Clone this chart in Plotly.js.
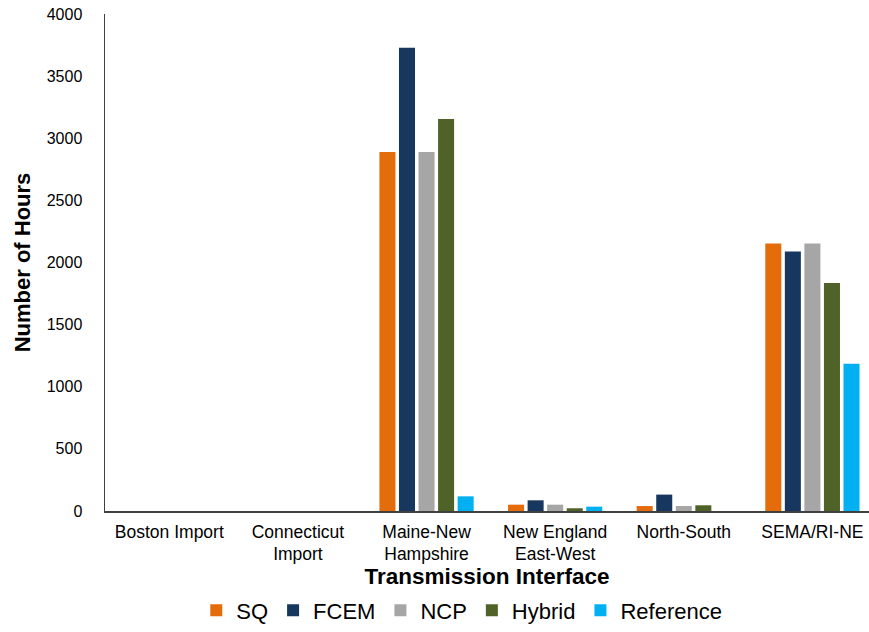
<!DOCTYPE html>
<html>
<head>
<meta charset="utf-8">
<script src="https://cdn.plot.ly/plotly-3.0.1.min.js"></script>
<style>html,body{margin:0;padding:0;background:#fff;}#chart{width:869px;height:632px;}</style>
</head>
<body>
<div id="chart"></div>
<script>
const categories = ["Boston Import", "Connecticut<br>Import", "Maine-New<br>Hampshire", "New England<br>East-West", "North-South", "SEMA/RI-NE"];
const seriesNames = ["SQ", "FCEM", "NCP", "Hybrid", "Reference"];
const sqValues = [0, 0, 2890, 51, 40, 2152];
const fcemValues = [0, 0, 3728, 86, 132, 2088];
const ncpValues = [0, 0, 2890, 51, 40, 2152];
const hybridValues = [0, 0, 3155, 22, 46, 1835];
const referenceValues = [0, 0, 118, 35, 0, 1186];
const colors = ["#E46C0A", "#17375E", "#A6A6A6", "#4F6228", "#00B0F0"];
const allValues = [sqValues, fcemValues, ncpValues, hybridValues, referenceValues];

const traces = seriesNames.map((name, i) => ({
  type: "bar",
  name: name,
  x: categories,
  y: allValues[i],
  marker: {color: colors[i]},
  hoverinfo: "x+y+name"
}));

const layout = {
  width: 869,
  height: 632,
  margin: {l: 105, r: 0, t: 14, b: 121},
  paper_bgcolor: "#fff",
  plot_bgcolor: "#fff",
  barmode: "group",
  bargap: 0.24,
  bargroupgap: 0.18,
  font: {family: "Liberation Sans, Arial, sans-serif", color: "#000"},
  xaxis: {
    range: [-0.5, 5.44],
    showline: true,
    linecolor: "#404040",
    linewidth: 1.5,
    ticks: "",
    ticklabelstandoff: 4,
    tickfont: {size: 17.5, color: "#000"},
    title: {text: "<b>Transmission Interface</b>", font: {size: 22.5, color: "#000"}, standoff: 4},
    automargin: false
  },
  yaxis: {
    range: [0, 4000],
    dtick: 500,
    showgrid: false,
    zeroline: false,
    showline: true,
    linecolor: "#404040",
    linewidth: 1.5,
    ticks: "",
    ticklabelstandoff: 18,
    tickfont: {size: 16, color: "#000"},
    title: {text: "<b>Number of Hours</b>", font: {size: 22, color: "#000"}, standoff: 10},
    automargin: false
  },
  legend: {
    orientation: "h",
    x: 0.467,
    xanchor: "center",
    y: -0.2425,
    yanchor: "bottom",
    font: {size: 22, color: "#000"},
    itemwidth: 30,
    tracegroupgap: 0
  },
  showlegend: true
};

Plotly.newPlot("chart", traces, layout, {displayModeBar: false, staticPlot: true});
</script>
</body>
</html>
